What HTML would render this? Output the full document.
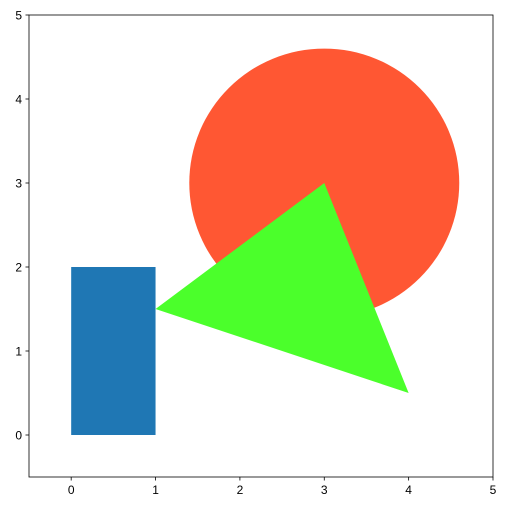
<!DOCTYPE html>
<html><head><meta charset="utf-8"><style>
html,body{margin:0;padding:0;background:#fff;}
svg{display:block;font-family:"Liberation Sans",sans-serif;}
</style></head><body>
<svg id="chart" width="508" height="511" viewBox="0 0 508 511" xmlns="http://www.w3.org/2000/svg"></svg>
<script>
const xDomain = [-0.5, 5];
const yDomain = [-0.5, 5];
const xTicks = [0, 1, 2, 3, 4, 5];
const yTicks = [0, 1, 2, 3, 4, 5];
const circleCenter = [3, 3];
const circleRadius = 1.6;
const trianglePoints = [[1, 1.5], [3, 3], [4, 0.5]];
const rectCorner = [0, 0];
const rectSize = [1, 2];

const L = 29, R = 493, T = 15, B = 477;
const sx = v => L + (v - xDomain[0]) / (xDomain[1] - xDomain[0]) * (R - L);
const sy = v => B - (v - yDomain[0]) / (yDomain[1] - yDomain[0]) * (B - T);
const NS = "http://www.w3.org/2000/svg";
const svg = document.getElementById("chart");
function mk(tag, attrs) {
  const e = document.createElementNS(NS, tag);
  for (const k in attrs) e.setAttribute(k, attrs[k]);
  svg.appendChild(e);
  return e;
}

const circ = mk("ellipse", {cx: sx(circleCenter[0]), cy: sy(circleCenter[1]),
  rx: sx(circleCenter[0] + circleRadius) - sx(circleCenter[0]),
  ry: sy(circleCenter[1]) - sy(circleCenter[1] + circleRadius), fill: "#FF5733"});



const rect = mk("rect", {x: sx(rectCorner[0]), y: sy(rectCorner[1] + rectSize[1]),
  width: sx(rectCorner[0] + rectSize[0]) - sx(rectCorner[0]),
  height: sy(rectCorner[1]) - sy(rectCorner[1] + rectSize[1]), fill: "#1f77b4"});



const tri = mk("polygon", {points: trianglePoints.map(p => sx(p[0]) + "," + sy(p[1])).join(" "), fill: "#4BFF2B"});



const frame = mk("rect", {x: L, y: T, width: R - L, height: B - T, fill: "none", stroke: "#000", "stroke-width": 0.8});



xTicks.forEach(t => {
  const x = sx(t);
  const tk = mk("line", {x1: x, x2: x, y1: B, y2: B + 3.5, stroke: "#000", "stroke-width": 0.8});
  
  
  const lb = mk("text", {x: x, y: B + 17, "text-anchor": "middle", "font-size": 12, fill: "#000"});
  lb.textContent = t;
  
  
});
yTicks.forEach(t => {
  const y = sy(t);
  const tk = mk("line", {x1: L - 3.5, x2: L, y1: y, y2: y, stroke: "#000", "stroke-width": 0.8});
  
  
  const lb = mk("text", {x: L - 7, y: y + 4.5, "text-anchor": "end", "font-size": 12, fill: "#000"});
  lb.textContent = t;
  
  
});
</script>
</body></html>
